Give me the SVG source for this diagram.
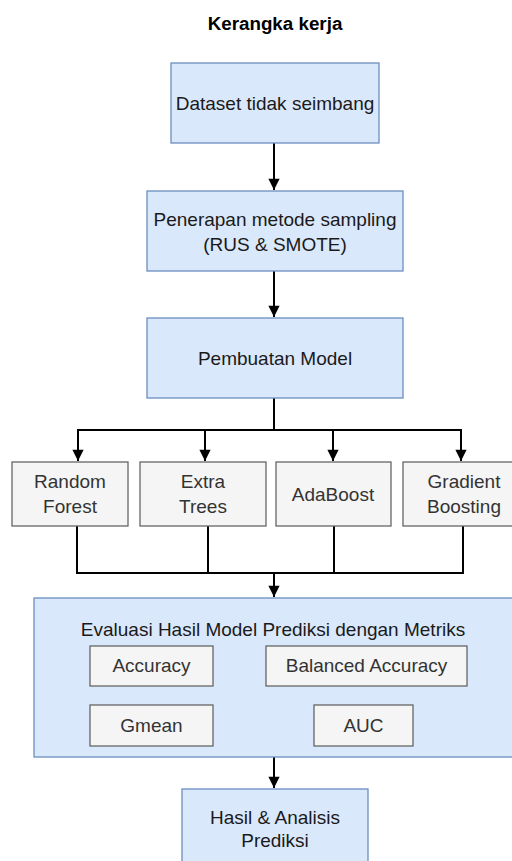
<svg xmlns="http://www.w3.org/2000/svg" width="512" height="861" viewBox="0 0 512 861">
<style>
.blue{fill:#dae8fc;stroke:#6c8ebf;stroke-width:1.3}
.gray{fill:#f5f5f5;stroke:#666666;stroke-width:1.3}
text{font-family:"Liberation Sans",Arial,sans-serif;font-size:19px;text-anchor:middle}
.bt{fill:#1a1a1a}
.gt{fill:#333333}
.title{font-weight:bold;fill:#000;font-size:18.8px}
.conn{fill:none;stroke:#000;stroke-width:2}
</style>
<defs>
<marker id="ah" viewBox="0 0 10 10" refX="10" refY="5" markerWidth="6" markerHeight="5.6" orient="auto" markerUnits="strokeWidth">
<path d="M0,0 L10,5 L0,10 z" fill="#000"/>
</marker>
</defs>
<rect width="512" height="861" fill="#ffffff"/>
<text class="title" x="275" y="30">Kerangka kerja</text>

<g id="connectors">
<path class="conn" d="M274,143 V190" marker-end="url(#ah)"/>
<path class="conn" d="M274,271 V317" marker-end="url(#ah)"/>
<path class="conn" d="M274,398 V430 H78 V461" marker-end="url(#ah)"/>
<path class="conn" d="M274,430 H205 V461" marker-end="url(#ah)"/>
<path class="conn" d="M274,430 H333 V461" marker-end="url(#ah)"/>
<path class="conn" d="M274,430 H461 V461" marker-end="url(#ah)"/>
<path class="conn" d="M77,526 V573 H463 V526"/>
<path class="conn" d="M208,526 V573"/>
<path class="conn" d="M334,526 V573"/>
<path class="conn" d="M274,573 V597" marker-end="url(#ah)"/>
<path class="conn" d="M274,757 V788" marker-end="url(#ah)"/>
</g>

<g id="dataset">
<rect class="blue" x="171" y="63" width="208" height="80"/>
<text class="bt" x="275" y="110">Dataset tidak seimbang</text>
</g>
<g id="sampling">
<rect class="blue" x="147" y="191" width="256" height="80"/>
<text class="bt" x="275" y="226">Penerapan metode sampling</text>
<text class="bt" x="275" y="251">(RUS &amp; SMOTE)</text>
</g>
<g id="model">
<rect class="blue" x="147" y="318" width="256" height="80"/>
<text class="bt" x="275" y="365">Pembuatan Model</text>
</g>

<g id="rf">
<rect class="gray" x="12" y="462" width="116" height="64"/>
<text class="gt" x="70" y="488">Random</text>
<text class="gt" x="70" y="513">Forest</text>
</g>
<g id="et">
<rect class="gray" x="140" y="462" width="126" height="64"/>
<text class="gt" x="203" y="488">Extra</text>
<text class="gt" x="203" y="513">Trees</text>
</g>
<g id="ada">
<rect class="gray" x="276" y="462" width="115" height="64"/>
<text class="gt" x="333" y="501">AdaBoost</text>
</g>
<g id="gb">
<rect class="gray" x="403" y="462" width="122" height="64"/>
<text class="gt" x="464" y="488">Gradient</text>
<text class="gt" x="464" y="513">Boosting</text>
</g>

<g id="evaluasi">
<rect class="blue" x="34" y="598" width="490" height="159"/>
<text class="bt" x="273" y="636">Evaluasi Hasil Model Prediksi dengan Metriks</text>
</g>
<g id="accuracy">
<rect class="gray" x="90" y="646" width="123" height="40"/>
<text class="gt" x="151.5" y="672">Accuracy</text>
</g>
<g id="balanced">
<rect class="gray" x="266" y="646" width="201" height="40"/>
<text class="gt" x="366.5" y="672">Balanced Accuracy</text>
</g>
<g id="gmean">
<rect class="gray" x="90" y="705" width="123" height="41"/>
<text class="gt" x="151.5" y="732">Gmean</text>
</g>
<g id="auc">
<rect class="gray" x="314" y="705" width="99" height="41"/>
<text class="gt" x="363.5" y="732">AUC</text>
</g>

<g id="hasil">
<rect class="blue" x="182" y="789" width="186" height="90"/>
<text class="bt" x="275" y="824">Hasil &amp; Analisis</text>
<text class="bt" x="275" y="847">Prediksi</text>
</g>
</svg>
